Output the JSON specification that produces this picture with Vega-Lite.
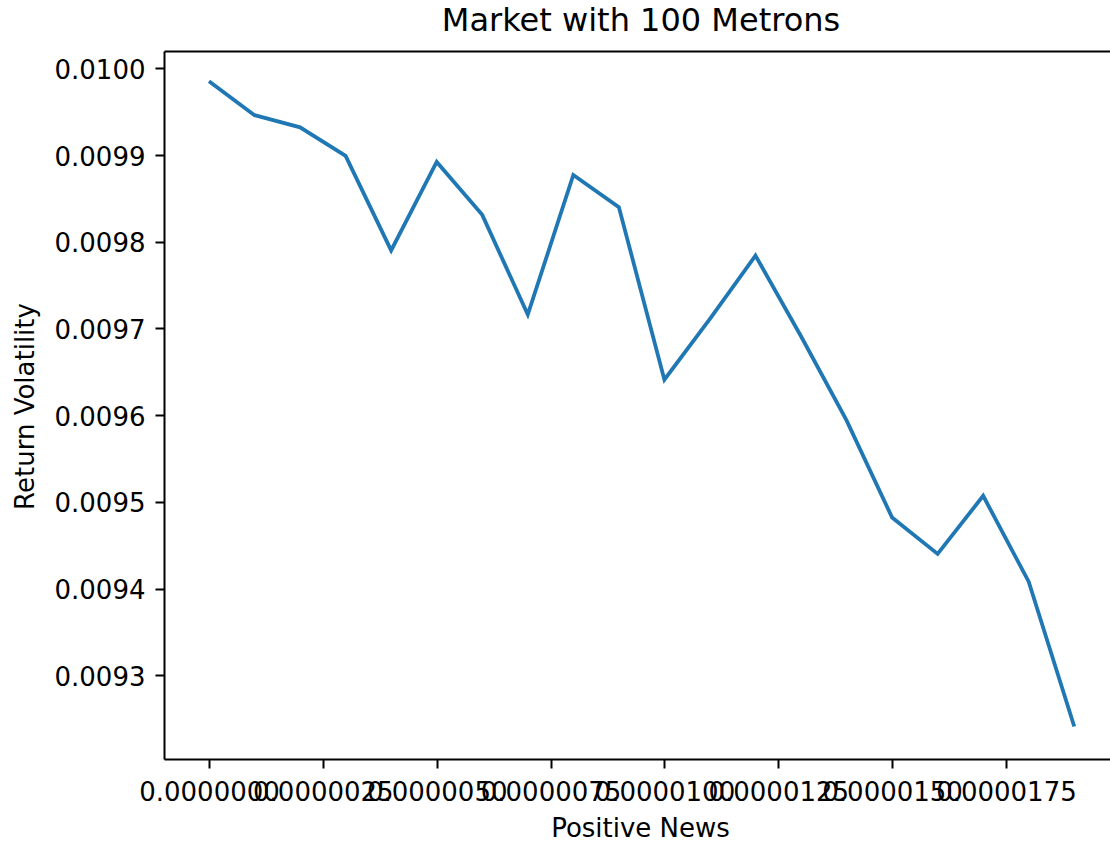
{
  "$schema": "https://vega.github.io/schema/vega-lite/v6.json",
  "autosize": "none",
  "width": 946,
  "height": 708,
  "padding": {"left": 164, "top": 51, "right": 0, "bottom": 85},
  "background": "white",
  "title": {
    "text": "Market with 100 Metrons",
    "font": "DejaVu Sans",
    "fontSize": 32,
    "fontWeight": "normal",
    "color": "#000000",
    "anchor": "middle",
    "baseline": "alphabetic",
    "offset": 18,
    "dx": 4,
    "dy": 30
  },
  "config": {
    "view": {"stroke": null},
    "axis": {
      "labelFont": "DejaVu Sans",
      "titleFont": "DejaVu Sans",
      "labelFontSize": 26,
      "titleFontSize": 26,
      "titleFontWeight": "normal",
      "labelColor": "#000000",
      "titleColor": "#000000",
      "domainColor": "#000000",
      "tickColor": "#000000",
      "domainWidth": 2,
      "tickWidth": 2,
      "tickSize": 9,
      "grid": false,
      "labelOverlap": false,
      "labelFlush": false,
      "labelBound": false
    }
  },
  "data": {
    "values": [
      {"news": 0.000000, "volatility": 0.009985},
      {"news": 0.000001, "volatility": 0.009946},
      {"news": 0.000002, "volatility": 0.009932},
      {"news": 0.000003, "volatility": 0.009899},
      {"news": 0.000004, "volatility": 0.009790},
      {"news": 0.000005, "volatility": 0.009892},
      {"news": 0.000006, "volatility": 0.009831},
      {"news": 0.000007, "volatility": 0.009716},
      {"news": 0.000008, "volatility": 0.009877},
      {"news": 0.000009, "volatility": 0.009840},
      {"news": 0.000010, "volatility": 0.009641},
      {"news": 0.000011, "volatility": 0.009711},
      {"news": 0.000012, "volatility": 0.009784},
      {"news": 0.000013, "volatility": 0.009691},
      {"news": 0.000014, "volatility": 0.009594},
      {"news": 0.000015, "volatility": 0.009482},
      {"news": 0.000016, "volatility": 0.009440},
      {"news": 0.000017, "volatility": 0.009507},
      {"news": 0.000018, "volatility": 0.009408},
      {"news": 0.000019, "volatility": 0.009241}
    ]
  },
  "layer": [
    {
      "mark": {"type": "line", "color": "#1f77b4", "strokeWidth": 3.8, "clip": true},
      "encoding": {
        "x": {
          "field": "news",
          "type": "quantitative",
          "scale": {"domain": [-0.000000988, 0.000019785], "nice": false, "zero": false},
          "axis": {
            "orient": "bottom",
            "title": "Positive News",
            "values": [0, 0.0000025, 0.000005, 0.0000075, 0.00001, 0.0000125, 0.000015, 0.0000175],
            "format": ".7f",
            "labelPadding": 11,
            "titleX": 476,
            "titleY": 77,
            "titleBaseline": "alphabetic",
            "titleAnchor": null
          }
        },
        "y": {
          "field": "volatility",
          "type": "quantitative",
          "scale": {"domain": [0.00920347, 0.01002], "nice": false, "zero": false},
          "axis": {
            "orient": "left",
            "title": "Return Volatility",
            "values": [0.0093, 0.0094, 0.0095, 0.0096, 0.0097, 0.0098, 0.0099, 0.0100],
            "format": ".4f",
            "labelPadding": 10,
            "labelOffset": 2,
            "titleX": -131,
            "titleY": 355,
            "titleBaseline": "alphabetic",
            "titleAnchor": null
          }
        }
      }
    },
    {
      "mark": {"type": "line", "strokeOpacity": 0},
      "encoding": {
        "x": {
          "field": "news",
          "type": "quantitative",
          "axis": {"orient": "top", "title": null, "labels": false, "ticks": false, "domain": true}
        },
        "y": {"field": "volatility", "type": "quantitative", "axis": null}
      }
    }
  ],
  "resolve": {"axis": {"x": "independent", "y": "independent"}}
}
